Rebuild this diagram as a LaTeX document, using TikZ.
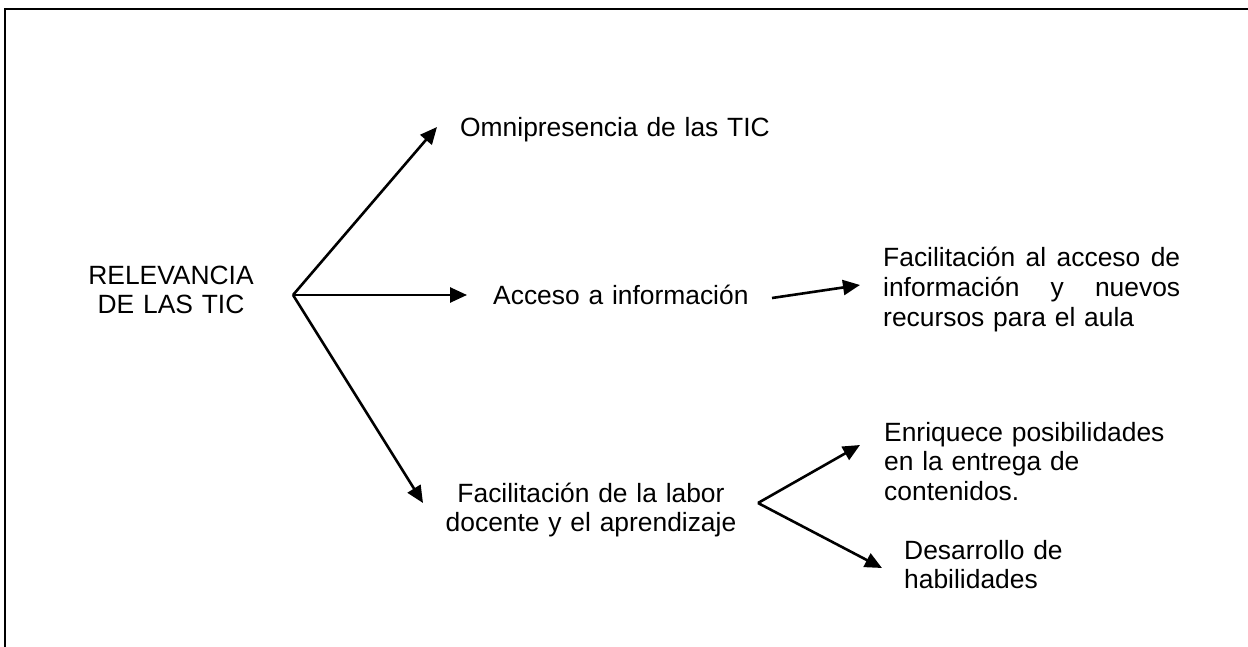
\documentclass[tikz,border=0pt]{standalone}
\usepackage{fontspec}
\setmainfont{Liberation Sans}
\usetikzlibrary{arrows.meta}
\begin{document}
\begin{tikzpicture}[x=1pt,y=-1pt,
  txt/.style={inner sep=0pt, font=\fontsize{26.4pt}{29.5pt}\selectfont},
  lbox/.style={txt, align=left, anchor=base west},
  cbox/.style={txt, align=center, anchor=base},
  arr/.style={line width=2.6pt, -{Triangle[length=17pt,width=15pt]}},
  frame/.style={line width=2.4pt}]
\useasboundingbox (0,0) rectangle (1248,647);
\draw[frame] (5,660) -- (5,9) -- (1260,9);

\node[cbox, text width=200pt] (rel) at (171,284) {RELEVANCIA\\DE LAS TIC};
\node[lbox, text width=320pt] (omni) at (460,137) {Omnipresencia de las TIC};
\node[lbox, text width=270pt] (acc) at (493,305) {Acceso a información};
\node[lbox, text width=297pt] (fac) at (883,267)
  {\makebox[297pt][l]{Facilitación\hfill al\hfill acceso\hfill de}\\
   \makebox[297pt][l]{información\hfill y\hfill nuevos}\\
   recursos para el aula};
\node[cbox, text width=300pt] (lab) at (591,502)
  {Facilitación de la labor\\docente y el aprendizaje};
\node[lbox, text width=300pt] (enr) at (884,441)
  {Enriquece posibilidades\\en la entrega de\\contenidos.};
\node[lbox, text width=200pt] (des) at (904,559)
  {Desarrollo de\\habilidades};

\coordinate (o) at (293,295);
\coordinate (t1) at (437,127);
\coordinate (t2) at (467,295);
\coordinate (t3) at (423,503);
\coordinate (a1) at (772,298);
\coordinate (a2) at (860,285);
\coordinate (b) at (758,503);
\coordinate (b1) at (860,445);
\coordinate (b2) at (882,568);

\draw[arr] (o) -- (t1);
\draw[arr] (o) -- (t2);
\draw[arr] (o) -- (t3);
\draw[arr] (a1) -- (a2);
\draw[arr] (b) -- (b1);
\draw[arr] (b) -- (b2);
\end{tikzpicture}
\end{document}
